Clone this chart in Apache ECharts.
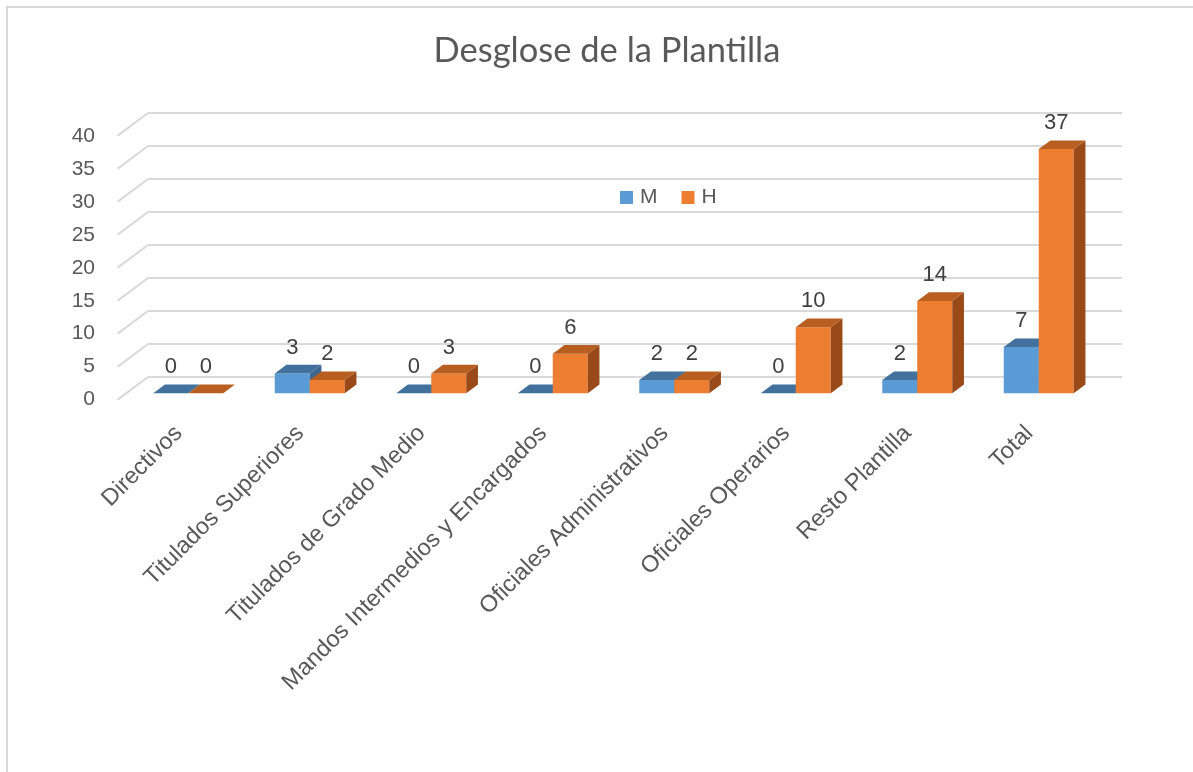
<!DOCTYPE html>
<html>
<head>
<meta charset="utf-8">
<script src="https://cdn.jsdelivr.net/npm/echarts@6/dist/echarts.min.js"></script>
<style>
html,body{margin:0;padding:0;background:#fff;}
#chart{width:1193px;height:772px;}
</style>
</head>
<body>
<div id="chart"></div>
<script>
const categories = ['Directivos','Titulados Superiores','Titulados de Grado Medio','Mandos Intermedios y Encargados','Oficiales Administrativos','Oficiales Operarios','Resto Plantilla','Total'];
const valuesM = [0,3,0,0,2,0,2,7];
const valuesH = [0,2,3,6,2,10,14,37];
const yMin = 0, yMax = 40, yStep = 5;
const titleText = 'Desglose de la Plantilla';

const COLORS = {
  M: {front:'#5B9BD5', top:'#41719C', side:'#3A6690'},
  H: {front:'#ED7D31', top:'#B85E20', side:'#9A4A18'}
};
const DEPTH = {dx: 11.7, dy: -8.7};
const BACK = {dx: 20.5, dy: -16.3};
const LABEL_FONT = '"Liberation Sans", Arial, sans-serif';

const chart = echarts.init(document.getElementById('chart'), null, {renderer:'canvas'});

function barRender(which) {
  return function(params, api) {
    const i = api.value(0);
    const v = api.value(1);
    const base = api.coord([i, 0]);
    const topP = api.coord([i, v]);
    const bandW = api.size([1, 0])[0];
    const bw = bandW * 35 / 121.5;
    const x0 = which === 'M' ? base[0] - bw : base[0];
    const top = topP[1];
    const b = base[1];
    const c = COLORS[which];
    const dx = DEPTH.dx, dy = DEPTH.dy;
    const children = [];
    if (b - top > 0.5) {
      children.push({type:'rect', shape:{x:x0, y:top, width:bw, height:b-top}, style:{fill:c.front}});
      children.push({type:'polygon', shape:{points:[[x0+bw,top],[x0+bw+dx,top+dy],[x0+bw+dx,b+dy],[x0+bw,b]]}, style:{fill:c.side}});
    }
    children.push({type:'polygon', shape:{points:[[x0,top],[x0+dx,top+dy],[x0+bw+dx,top+dy],[x0+bw,top]]}, style:{fill:c.top}});
    children.push({type:'text', style:{text:String(v), x:x0+bw/2, y:top-26, align:'center', verticalAlign:'middle', fill:'#404040', font:'22px ' + LABEL_FONT}});
    return {type:'group', children};
  };
}

function gridRender(params, api) {
  const bandW = api.size([1, 0])[0];
  const left = api.coord([0, 0])[0] - bandW/2;
  const right = api.coord([categories.length-1, 0])[0] + bandW/2;
  const children = [];
  for (let v = yMin; v <= yMax; v += yStep) {
    const y = api.coord([0, v])[1];
    const bx = left + BACK.dx, by = y + BACK.dy;
    const fxp = bx - 30.3, fyp = by + 22.6;
    children.push({type:'line', shape:{x1:bx, y1:by, x2:right + BACK.dx + 2, y2:by}, style:{stroke:'#D9D9D9', lineWidth:2}});
    children.push({type:'line', shape:{x1:bx, y1:by, x2:fxp, y2:fyp}, style:{stroke:'#D9D9D9', lineWidth:2}});
  }
  return {type:'group', children};
}

const option = {
  backgroundColor:'#ffffff',
  animation:false,
  title:{
    text:titleText, left:602, top:28, textAlign:'center',
    textStyle:{fontFamily:'Lato, "Open Sans", sans-serif', fontWeight:'normal', fontSize:34.5, color:'#595959'}
  },
  legend:{
    data:['M','H'], left:620, top:187, padding:0, itemWidth:13, itemHeight:13, itemGap:24,
    icon:'rect', textStyle:{fontFamily:LABEL_FONT, fontSize:21, color:'#595959', padding:[0,0,0,2]}
  },
  graphic:[{type:'rect', shape:{x:7, y:7, width:1200, height:800}, style:{fill:'none', stroke:'#D9D9D9', lineWidth:2}, z:-10}],
  grid:[
    {left:127.5, right:93.5, top:129.3, bottom:378.7},
    {left:118, right:103, top:136, bottom:372.4}
  ],
  xAxis:[
    {type:'category', gridIndex:0, data:categories, show:false},
    {type:'category', gridIndex:1, data:categories, axisLine:{show:false}, axisTick:{show:false},
     axisLabel:{interval:0, rotate:45, margin:30, fontSize:23.5, color:'#595959', fontFamily:LABEL_FONT}}
  ],
  yAxis:[
    {type:'value', gridIndex:0, min:yMin, max:yMax, interval:yStep, show:false},
    {type:'value', gridIndex:1, min:yMin, max:yMax, interval:yStep, axisLine:{show:false}, axisTick:{show:false}, splitLine:{show:false},
     axisLabel:{margin:23, fontSize:21, color:'#595959', fontFamily:LABEL_FONT}}
  ],
  series:[
    {type:'custom', name:'_grid', xAxisIndex:0, yAxisIndex:0, data:[[0,0]], renderItem:gridRender, silent:true, z:1},
    {type:'custom', name:'M', xAxisIndex:0, yAxisIndex:0, itemStyle:{color:COLORS.M.front},
     data:valuesM.map((v,i)=>[i,v]), renderItem:barRender('M'), z:2},
    {type:'custom', name:'H', xAxisIndex:0, yAxisIndex:0, itemStyle:{color:COLORS.H.front},
     data:valuesH.map((v,i)=>[i,v]), renderItem:barRender('H'), z:3}
  ]
};
chart.setOption(option);
</script>
</body>
</html>
